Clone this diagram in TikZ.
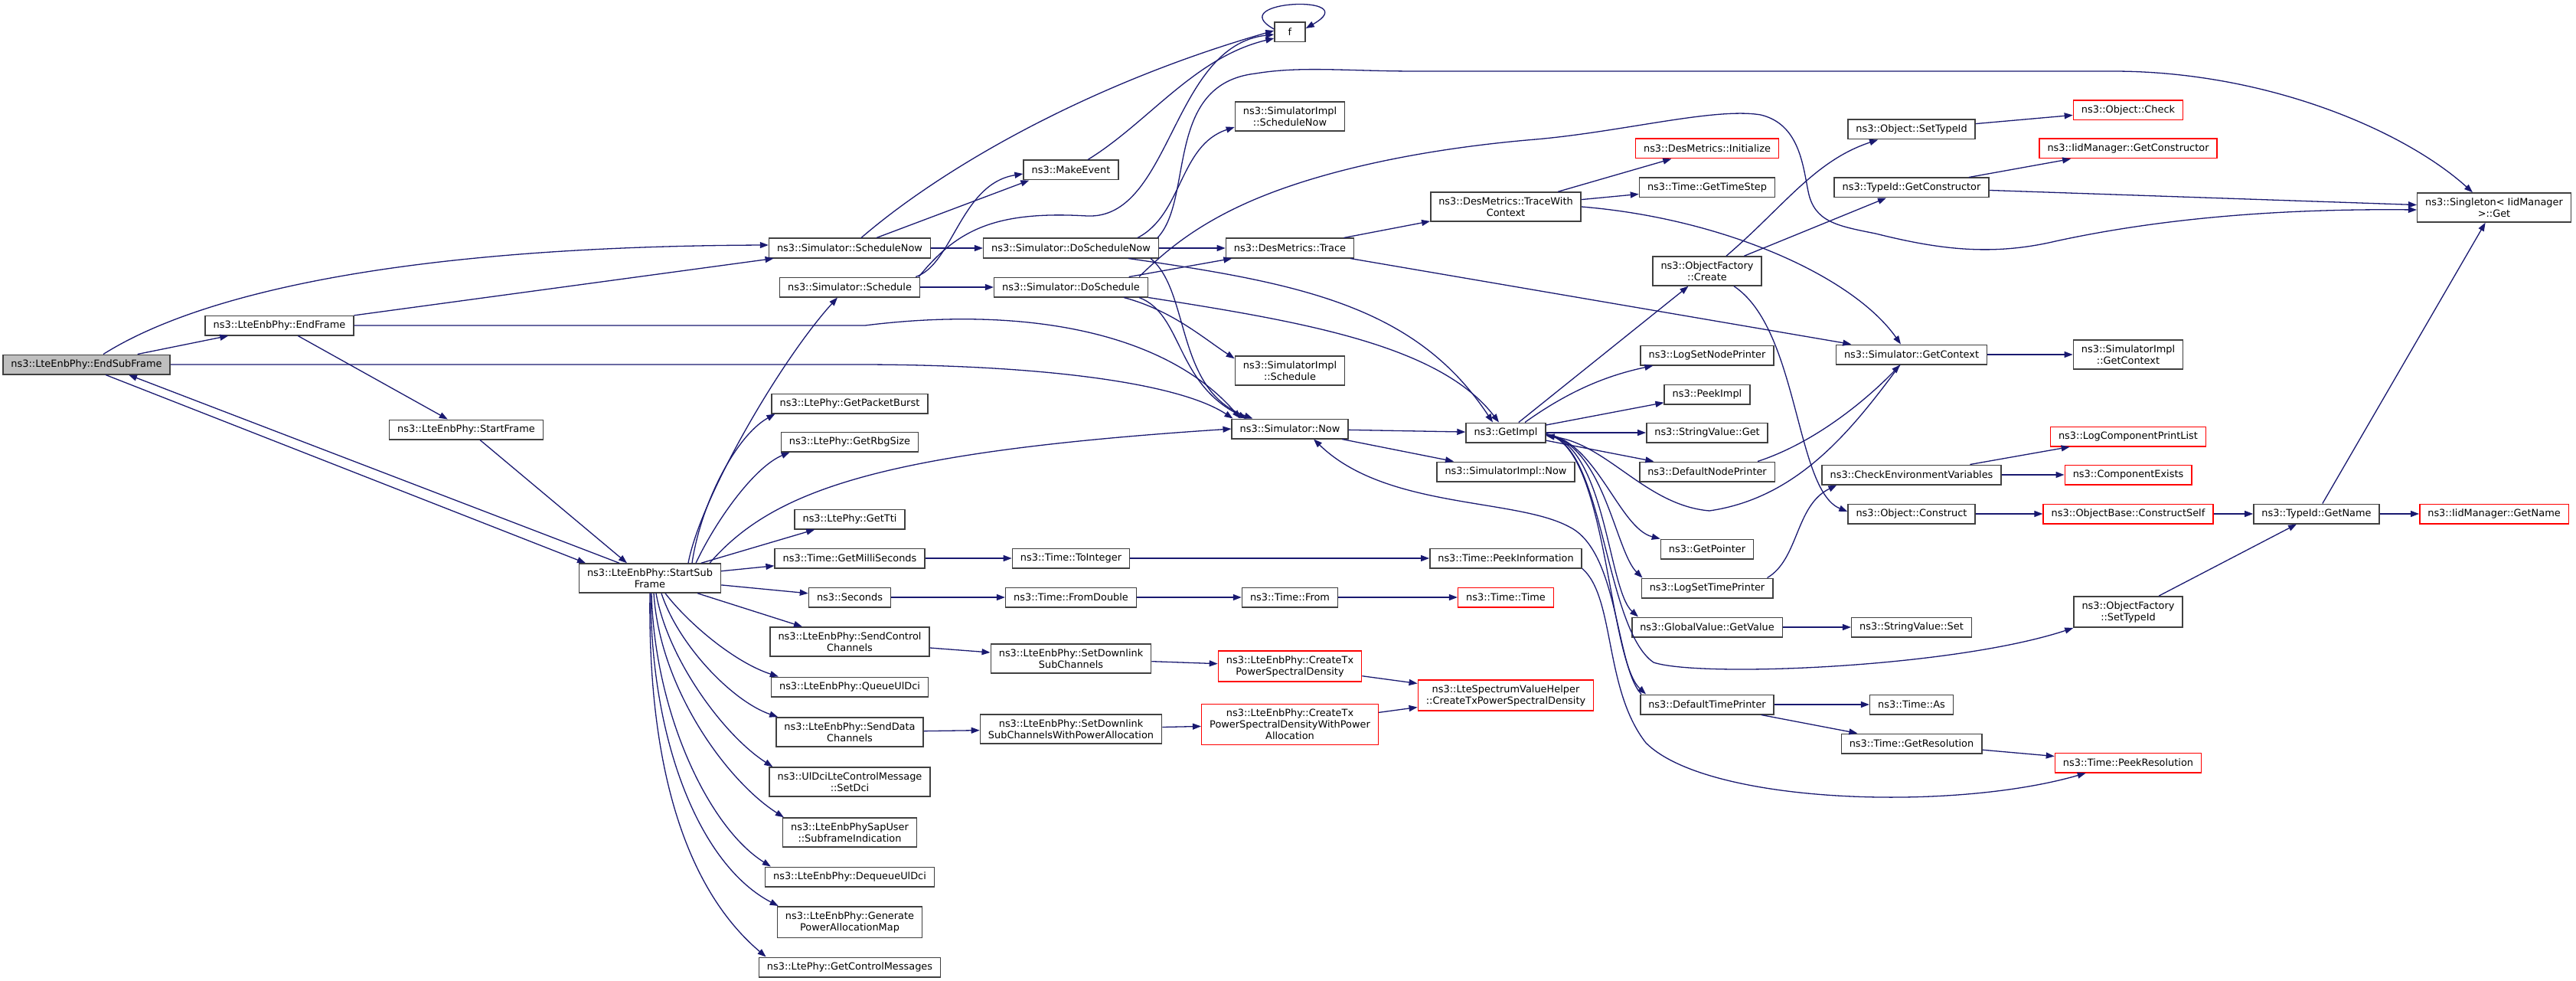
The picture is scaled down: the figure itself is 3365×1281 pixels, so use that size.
\documentclass[tikz,border=0pt]{standalone}
\usepackage{fontspec}
\setmainfont{DejaVu Sans}
\usepackage{tikz}
\usetikzlibrary{arrows.meta}
\tikzset{>={Triangle[width=8pt,length=11pt]}}
\definecolor{callblue}{HTML}{191970}
\definecolor{framegray}{HTML}{404040}
\definecolor{rootgray}{HTML}{BFBFBF}

\begin{document}
\begin{tikzpicture}[
    x = 1pt, y = -1pt,
    font = \fontsize{12.9pt}{15pt}\selectfont,
    fn/.style = {draw=framegray, line width=1.5pt, fill=white, align=center,
        inner xsep=10.5pt, inner ysep=6.5pt, minimum height=25.5pt},
    call/.style = {->, draw=callblue, line width=1.3pt}
  ]
  \useasboundingbox (0,0) rectangle (3365,1281);

  \node[fn, fill=rootgray] (esf) at (113,476) {ns3::LteEnbPhy::EndSubFrame};
  \node[fn] (endf) at (365,425) {ns3::LteEnbPhy::EndFrame};
  \node[fn] (startf) at (609,561) {ns3::LteEnbPhy::StartFrame};
  \node[fn] (startsf) at (849,755) {ns3::LteEnbPhy::StartSub\\Frame};
  \node[fn, minimum width=40pt] (f) at (1685,42) {f};

  \foreach \x/\n/\y/\col/\lbl in {
      1110/schednow/324/framegray/{ns3::Simulator::ScheduleNow},
      1110/sched/375/framegray/{ns3::Simulator::Schedule},
      1110/pktburst/527/framegray/{ns3::LtePhy::GetPacketBurst},
      1110/rbgsize/577/framegray/{ns3::LtePhy::GetRbgSize},
      1110/gettti/678/framegray/{ns3::LtePhy::GetTti},
      1110/millisec/729/framegray/{ns3::Time::GetMilliSeconds},
      1110/seconds/780/framegray/{ns3::Seconds},
      1110/sendctrl/838/framegray/{ns3::LteEnbPhy::SendControl\\Channels},
      1110/queueul/897/framegray/{ns3::LteEnbPhy::QueueUlDci},
      1110/senddata/956/framegray/{ns3::LteEnbPhy::SendData\\Channels},
      1110/setdci/1021/framegray/{ns3::UlDciLteControlMessage\\::SetDci},
      1110/sfind/1087/framegray/{ns3::LteEnbPhySapUser\\::SubframeIndication},
      1110/dequeue/1145/framegray/{ns3::LteEnbPhy::DequeueUlDci},
      1110/genpam/1204/framegray/{ns3::LteEnbPhy::Generate\\PowerAllocationMap},
      1110/ctrlmsg/1263/framegray/{ns3::LtePhy::GetControlMessages},
      1399/makeev/222/framegray/{ns3::MakeEvent},
      1399/doschednow/324/framegray/{ns3::Simulator::DoScheduleNow},
      1399/dosched/375/framegray/{ns3::Simulator::DoSchedule},
      1399/tointeger/729/framegray/{ns3::Time::ToInteger},
      1399/fromdouble/780/framegray/{ns3::Time::FromDouble},
      1399/setdlsub/860/framegray/{ns3::LteEnbPhy::SetDownlink\\SubChannels},
      1399/setdlsubpa/952/framegray/{ns3::LteEnbPhy::SetDownlink\\SubChannelsWithPowerAllocation},
      1685/implschednow/152/framegray/{ns3::SimulatorImpl\\::ScheduleNow},
      1685/trace/324/framegray/{ns3::DesMetrics::Trace},
      1685/implsched/484/framegray/{ns3::SimulatorImpl\\::Schedule},
      1685/now/560/framegray/{ns3::Simulator::Now},
      1685/timefrom/780/framegray/{ns3::Time::From},
      1685/createtx/870/red/{ns3::LteEnbPhy::CreateTx\\PowerSpectralDensity},
      1685/createtxpa/946/red/{ns3::LteEnbPhy::CreateTx\\PowerSpectralDensityWithPower\\Allocation},
      1967/tracectx/270/framegray/{ns3::DesMetrics::TraceWith\\Context},
      1967/getimpl/565/framegray/{ns3::GetImpl},
      1967/implnow/616/framegray/{ns3::SimulatorImpl::Now},
      1967/peekinfo/729/framegray/{ns3::Time::PeekInformation},
      1967/timetime/780/red/{ns3::Time::Time},
      1967/lsvh/908/red/{ns3::LteSpectrumValueHelper\\::CreateTxPowerSpectralDensity},
      2230/desinit/194/red/{ns3::DesMetrics::Initialize},
      2230/timestep/245/framegray/{ns3::Time::GetTimeStep},
      2230/ofcreate/354/framegray/{ns3::ObjectFactory\\::Create},
      2230/lognode/464/framegray/{ns3::LogSetNodePrinter},
      2230/peekimpl/515/framegray/{ns3::PeekImpl},
      2230/svget/565/framegray/{ns3::StringValue::Get},
      2230/defnode/616/framegray/{ns3::DefaultNodePrinter},
      2230/getptr/717/framegray/{ns3::GetPointer},
      2230/logtime/768/framegray/{ns3::LogSetTimePrinter},
      2230/gvget/819/framegray/{ns3::GlobalValue::GetValue},
      2230/deftime/920/framegray/{ns3::DefaultTimePrinter},
      2497/objsettid/169/framegray/{ns3::Object::SetTypeId},
      2497/getctor/245/framegray/{ns3::TypeId::GetConstructor},
      2497/getctx/463/framegray/{ns3::Simulator::GetContext},
      2497/checkenv/620/framegray/{ns3::CheckEnvironmentVariables},
      2497/objconstr/671/framegray/{ns3::Object::Construct},
      2497/svset/819/framegray/{ns3::StringValue::Set},
      2497/timeas/920/framegray/{ns3::Time::As},
      2497/getres/971/framegray/{ns3::Time::GetResolution},
      2780/objcheck/144/red/{ns3::Object::Check},
      2780/iidctor/194/red/{ns3::IidManager::GetConstructor},
      2780/implctx/463/framegray/{ns3::SimulatorImpl\\::GetContext},
      2780/logprint/570/red/{ns3::LogComponentPrintList},
      2780/compexists/620/red/{ns3::ComponentExists},
      2780/constructself/671/red/{ns3::ObjectBase::ConstructSelf},
      2780/ofsettid/799/framegray/{ns3::ObjectFactory\\::SetTypeId},
      2780/peekres/996/red/{ns3::Time::PeekResolution},
      3026/getname/671/framegray/{ns3::TypeId::GetName},
      3258/singleton/271/framegray/{ns3::Singleton< IidManager\\>::Get},
      3258/iidname/671/red/{ns3::IidManager::GetName}}
    \node[fn, draw=\col] (\n) at (\x,\y) {\lbl};

  \foreach \na/\nb in {esf/endf, endf/startf, endf/schednow, schednow/doschednow,
      sched/dosched, dosched/trace, doschednow/trace, trace/tracectx, trace/getctx,
      tracectx/desinit, tracectx/timestep, now/getimpl, now/implnow, getimpl/peekimpl,
      getimpl/svget, getimpl/defnode, getimpl/ofcreate, ofcreate/getctor,
      objsettid/objcheck, getctor/iidctor, getctor/singleton, getctx/implctx,
      checkenv/logprint, checkenv/compexists, objconstr/constructself,
      constructself/getname, ofsettid/getname, getname/singleton, getname/iidname,
      gvget/svset, deftime/timeas, deftime/getres, getres/peekres, startsf/gettti,
      startsf/millisec, startsf/seconds, startsf/sendctrl, millisec/tointeger,
      tointeger/peekinfo, seconds/fromdouble, fromdouble/timefrom, timefrom/timetime,
      sendctrl/setdlsub, setdlsub/createtx, senddata/setdlsubpa,
      setdlsubpa/createtxpa, createtx/lsvh, createtxpa/lsvh}
    \draw[call] (\na) -- (\nb);

  \foreach \tg/\sh/\pa/\pb/\ex in {queueul/20/{900,815}/{960,865}/10,
      senddata/15/{885,840}/{955,915}/3, setdci/8/{872,860}/{945,960}/5,
      sfind/5/{862,900}/{950,1020}/2, dequeue/2/{855,930}/{925,1080}/8,
      genpam/1/{850,970}/{915,1130}/2, ctrlmsg/0/{846,1000}/{895,1160}/10}
    \draw[call] ([xshift=\sh]startsf.south) .. controls (\pa) and (\pb) .. ([xshift=\ex]\tg.north west);

  \draw[call] ([xshift=22]esf.north) .. controls (250,390) and (500,322) .. ([yshift=4]schednow.west);
  \draw[call] ([xshift=25]esf.south) -- ([xshift=-84]startsf.north);
  \draw[call] ([xshift=-40]startsf.north) -- ([xshift=55]esf.south);
  \draw[call] ([xshift=18]startf.south) -- ([xshift=-30]startsf.north);
  \draw[call] (esf.east) -- (1120,476) .. controls (1360,476) and (1540,500) .. ([xshift=2]now.north west);
  \draw[call] (endf.east) -- (1130,425) .. controls (1330,400) and (1520,430) .. ([xshift=12]now.north west);
  \draw[call] ([xshift=50]startsf.north) .. controls (915,650) and (1020,470) .. ([xshift=-16]sched.south);
  \draw[call] ([xshift=55]startsf.north) .. controls (915,660) and (960,570) .. ([xshift=5]pktburst.south west);
  \draw[call] ([xshift=60]startsf.north) .. controls (935,680) and (985,610) .. ([xshift=12]rbgsize.south west);
  \draw[call] ([xshift=78]startsf.north) .. controls (1010,640) and (1150,590) .. (now.west);

  \draw[call] ([xshift=15]schednow.north) .. controls (1230,220) and (1420,110) .. ([yshift=2]f.west);
  \draw[call] ([xshift=35]schednow.north) -- ([xshift=8]makeev.south west);
  \draw[call] ([xshift=-6]sched.north east) .. controls (1245,345) and (1255,240) .. ([yshift=-5]makeev.west);
  \draw[call] ([xshift=-2]sched.north east) .. controls (1250,300) and (1300,275) .. (1420,282)
      .. controls (1530,287) and (1530,60) .. ([yshift=-3]f.west);
  \draw[call] ([xshift=22]makeev.north) .. controls (1500,160) and (1560,75) .. ([yshift=-8]f.west);
  \draw[call] ([yshift=4]f.west) .. controls (1595,0) and (1785,-8) .. ([yshift=5]f.east);

  \draw[call] ([xshift=87]doschednow.north) .. controls (1545,280) and (1540,190) .. ([yshift=-14]implschednow.west);
  \draw[call] ([xshift=113]doschednow.north) .. controls (1560,260) and (1520,110) .. (1640,96)
      .. controls (1700,86) and (1760,93) .. (1850,93) -- (2760,93)
      .. controls (2960,93) and (3140,170) .. ([xshift=-28]singleton.north);
  \draw[call] ([xshift=75]doschednow.south) .. controls (1700,370) and (1850,400) .. ([xshift=-17]getimpl.north);
  \draw[call] ([xshift=104]doschednow.south) .. controls (1555,380) and (1535,510) .. ([xshift=28]now.north west);
  \draw[call] ([xshift=89]dosched.north) .. controls (1520,330) and (1560,295) .. (1633,263)
      .. controls (1720,225) and (1850,195) .. (2006,182)
      .. controls (2120,172) and (2240,140) .. (2300,150)
      .. controls (2350,162) and (2355,215) .. (2362,250)
      .. controls (2370,290) and (2400,295) .. (2450,305)
      .. controls (2530,325) and (2600,335) .. (2685,315)
      .. controls (2800,290) and (2950,272) .. ([yshift=-3]singleton.west);
  \draw[call] (dosched.south east) .. controls (1700,420) and (1880,450) .. ([xshift=-9]getimpl.north);
  \draw[call] ([xshift=69]dosched.south) .. controls (1530,405) and (1570,440) .. ([yshift=-4]implsched.north west);
  \draw[call] ([xshift=89]dosched.south) .. controls (1545,410) and (1535,500) .. ([xshift=20]now.north west);

  \draw[call] (tracectx.east) .. controls (2250,285) and (2420,360) .. ([xshift=-14]getctx.north);
  \draw[call] ([xshift=2]deftime.north west) .. controls (2110,870) and (2115,720) .. (2050,688)
      .. controls (1980,650) and (1810,665) .. ([xshift=31]now.south);
  \draw[call] ([yshift=-2]getimpl.east) .. controls (2085,575) and (2115,690) .. (getptr.north west);
  \draw[call] ([yshift=-2]getimpl.east) .. controls (2095,580) and (2110,720) .. ([xshift=2]logtime.north west);
  \draw[call] ([yshift=-2]getimpl.east) .. controls (2098,580) and (2100,770) .. ([xshift=9]gvget.north west);
  \draw[call] ([yshift=-2]getimpl.east) .. controls (2100,580) and (2100,860) .. ([xshift=8]deftime.north west);
  \draw[call] ([yshift=-3]getimpl.east) .. controls (2095,575) and (2095,820) .. (2160,865)
      .. controls (2220,885) and (2550,872) .. (ofsettid.south west);
  \draw[call] ([xshift=-15]getctx.south) .. controls (2420,560) and (2350,650) .. (2233,667)
      .. controls (2150,660) and (2100,580) .. ([yshift=-4]getimpl.east);
  \draw[call] ([xshift=25]getimpl.north) .. controls (2050,510) and (2100,490) .. ([xshift=17]lognode.south west);
  \draw[call] ([xshift=-23]defnode.north east) .. controls (2380,575) and (2450,510) .. ([xshift=-15]getctx.south);
  \draw[call] ([xshift=-8]logtime.north east) .. controls (2350,730) and (2345,660) .. ([xshift=20]checkenv.south west);
  \draw[call] ([xshift=25]ofcreate.north) .. controls (2330,270) and (2370,210) .. ([xshift=40]objsettid.south west);
  \draw[call] ([xshift=35]ofcreate.south) .. controls (2350,430) and (2345,640) .. ([yshift=3]objconstr.west);
  \draw[call] (peekinfo.south east) .. controls (2110,780) and (2095,900) .. (2150,970)
      .. controls (2230,1050) and (2550,1060) .. ([xshift=41]peekres.south west);
\end{tikzpicture}
\end{document}
